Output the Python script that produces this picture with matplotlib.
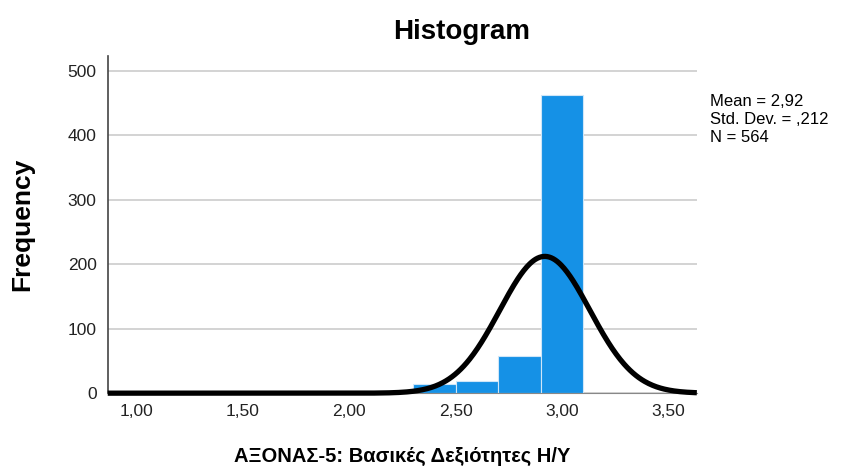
import numpy as np
import matplotlib
matplotlib.use("Agg")
import matplotlib.pyplot as plt

plt.rcParams['font.family'] = ['Liberation Sans', 'DejaVu Sans']

# Histogram data (bin centres, width 0.2)
bin_centers = [2.0, 2.4, 2.6, 2.8, 3.0]
counts = [2, 15, 19, 57, 463]
bin_width = 0.2

# Summary statistics shown on the chart
mean = 2.92
std = 0.212
n = 564

x_ticks = [1.0, 1.5, 2.0, 2.5, 3.0, 3.5]
x_tick_labels = ["1,00", "1,50", "2,00", "2,50", "3,00", "3,50"]
y_ticks = [0, 100, 200, 300, 400, 500]

fig = plt.figure(figsize=(8.55, 4.72), dpi=100)
ax = fig.add_axes([0.126, 0.167, 0.689, 0.714])

ax.bar(bin_centers, counts, width=bin_width, color="#1591e6",
       edgecolor="#cfe6f8", linewidth=0.8, zorder=2)

# Normal curve fitted to the data
xmin, xmax = 0.864, 3.635
xs = np.linspace(xmin, xmax, 600)
ys = n * bin_width / (std * np.sqrt(2 * np.pi)) * np.exp(-0.5 * ((xs - mean) / std) ** 2)
ax.plot(xs, ys, color="black", linewidth=3.8, zorder=3, clip_on=False,
        solid_capstyle="butt")

ax.set_xlim(xmin, xmax)
ax.set_ylim(0, 523)
ax.set_xticks(x_ticks)
ax.set_xticklabels(x_tick_labels)
ax.set_yticks(y_ticks)
ax.tick_params(length=0, labelsize=12.5, colors="#222222", pad=8)

ax.yaxis.grid(True, color="#cccccc", linewidth=1.2, zorder=0)
ax.set_axisbelow(True)
for side in ["top", "right"]:
    ax.spines[side].set_visible(False)
ax.spines["left"].set_color("#444444")
ax.spines["left"].set_linewidth(1.2)
ax.spines["bottom"].set_color("#888888")

ax.set_ylabel("Frequency", fontsize=19, fontweight="bold", labelpad=24)
ax.set_xlabel("ΑΞΟΝΑΣ-5: Βασικές Δεξιότητες Η/Υ", fontsize=14.5,
              fontweight="bold", labelpad=20)

fig.text(0.54, 0.932, "Histogram", fontsize=20, fontweight="bold",
         ha="center", va="center")

fig.text(0.830, 0.800, "Mean = 2,92\nStd. Dev. = ,212\nN = 564",
         fontsize=12, ha="left", va="top", linespacing=1.25)

fig.savefig("out.png", dpi=100)
